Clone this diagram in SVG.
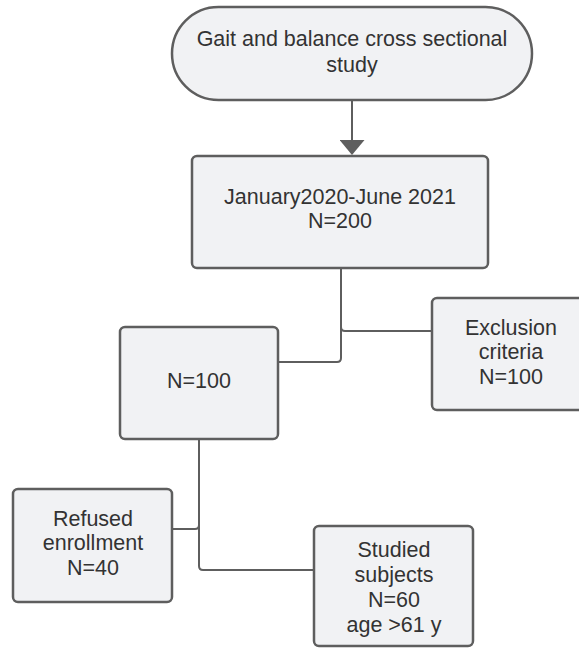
<svg xmlns="http://www.w3.org/2000/svg" width="579" height="648" viewBox="0 0 579 648">
<defs>
<style>
.box{fill:#f1f2f4;stroke:#5e5e5e;stroke-width:2.5}
.t{font-family:"Liberation Sans",Arial,sans-serif;font-size:21.5px;fill:#333;text-anchor:middle}
.c{fill:none;stroke:#5e5e5e;stroke-width:2}
</style>
<marker id="ah" markerWidth="15" markerHeight="25" refX="12" refY="12.5" orient="auto" markerUnits="userSpaceOnUse" viewBox="0 0 15 25">
<path d="M0,0 L15,12.5 L0,25 Z" fill="#5e5e5e"/>
</marker>
</defs>
<g id="connectors">
<path class="c" d="M352,100 L352,152" marker-end="url(#ah)"/>
<path class="c" d="M341,268 L341,327 Q341,331 345,331 L432,331"/>
<path class="c" d="M341,327 L341,358 Q341,362 337,362 L278,362"/>
<path class="c" d="M199,440 L199,525 Q199,529 195,529 L172,529"/>
<path class="c" d="M199,525 L199,566 Q199,570 203,570 L314,570"/>
</g>
<g id="start">
<rect class="box" x="172" y="7" width="360" height="93" rx="46.5"/>
<text class="t" x="352" y="46">Gait and balance cross sectional</text>
<text class="t" x="352" y="72">study</text>
</g>
<g id="period">
<rect class="box" x="192" y="156" width="296" height="112" rx="5"/>
<text class="t" x="340" y="204">January2020-June 2021</text>
<text class="t" x="340" y="228">N=200</text>
</g>
<g id="exclusion">
<rect class="box" x="432" y="298" width="160" height="112" rx="5"/>
<text class="t" x="511" y="335">Exclusion</text>
<text class="t" x="511" y="359">criteria</text>
<text class="t" x="511" y="384">N=100</text>
</g>
<g id="n100">
<rect class="box" x="120" y="327" width="158" height="112" rx="5"/>
<text class="t" x="199" y="388">N=100</text>
</g>
<g id="refused">
<rect class="box" x="13" y="489" width="159" height="113" rx="5"/>
<text class="t" x="93" y="526">Refused</text>
<text class="t" x="93" y="550">enrollment</text>
<text class="t" x="93" y="575">N=40</text>
</g>
<g id="studied">
<rect class="box" x="314" y="526" width="159" height="120" rx="5"/>
<text class="t" x="394" y="557">Studied</text>
<text class="t" x="394" y="582">subjects</text>
<text class="t" x="394" y="607">N=60</text>
<text class="t" x="394" y="632">age &gt;61 y</text>
</g>
</svg>
